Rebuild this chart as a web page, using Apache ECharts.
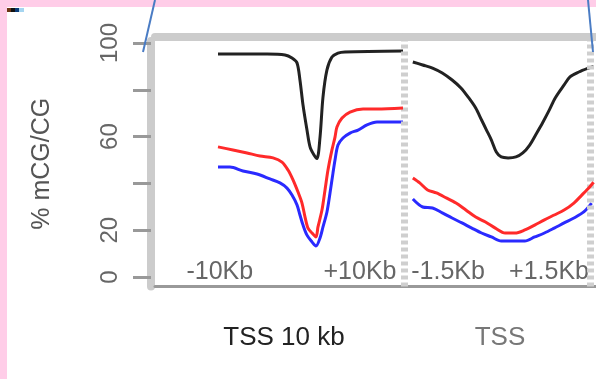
<!DOCTYPE html>
<html>
<head>
<meta charset="utf-8">
<script src="https://cdn.jsdelivr.net/npm/echarts@6/dist/echarts.min.js"></script>
<style>
  html, body { margin: 0; padding: 0; background: #ffcde8; }
  #chart { width: 596px; height: 379px; }
</style>
</head>
<body>
<div id="chart"></div>
<script>
var chartDom = document.getElementById('chart');
var myChart = echarts.init(chartDom);
var option;

// y axis
var yTicks = [0, 20, 40, 60, 80, 100];
var yLabels = [0, 20, 60, 100];

// label positions (kb) and texts for the two panels
var leftLabelPos = [-9.8, 5.35];
var leftLabelText = ['-10Kb', '+10Kb'];
var rightLabelPos = [-0.905, 0.798];
var rightLabelText = ['-1.5Kb', '+1.5Kb'];

// left panel: TSS +/- 10 kb  [kb, % mCG/CG]
var leftBlack = [[-10, 95.3], [-4.7, 95.3], [-2.76, 94.9], [-2.0, 93.6], [-1.46, 91.5],
  [-1.14, 84.2], [-0.81, 73.5], [-0.38, 62.8], [-0.05, 55.6], [0.38, 52.1], [0.7, 50.6],
  [1.03, 59.8], [1.35, 76.9], [1.78, 88.5], [2.32, 94.0], [2.97, 95.7], [3.73, 96.2], [10, 96.6]];
var leftRed = [[-10, 55.6], [-8.38, 54.3], [-6.86, 53.0], [-5.46, 51.7], [-4.05, 50.9],
  [-3.08, 49.1], [-2.43, 45.7], [-1.89, 41.5], [-1.35, 36.3], [-0.92, 31.6], [-0.59, 25.6],
  [-0.27, 20.9], [0.16, 18.8], [0.59, 17.1], [0.81, 21.4], [1.24, 28.6], [1.57, 37.2],
  [1.89, 45.7], [2.32, 54.3], [2.65, 59.8], [2.86, 64.1], [3.41, 67.9], [4.27, 70.5],
  [5.68, 71.8], [7.19, 71.8], [10, 72.2]];
var leftBlue = [[-10, 47.0], [-8.7, 47.0], [-7.3, 45.3], [-5.78, 44.0], [-4.38, 41.9],
  [-3.3, 40.2], [-2.54, 38.0], [-2.0, 35.0], [-1.46, 30.8], [-1.14, 26.5], [-0.81, 22.2],
  [-0.38, 17.9], [0.16, 15.0], [0.59, 13.2], [1.03, 16.7], [1.35, 21.4], [1.78, 27.8],
  [2.11, 35.9], [2.43, 44.4], [2.65, 50.0], [2.97, 56.4], [3.51, 59.4], [4.27, 61.5],
  [5.14, 62.8], [6.11, 65.0], [7.19, 66.2], [10, 66.2]];

// right panel: TSS +/- 1.5 kb
var rightBlack = [[-1.5, 91.9], [-1.334, 90.6], [-1.168, 89.3], [-1.003, 87.2], [-0.837, 84.2],
  [-0.688, 80.8], [-0.555, 76.5], [-0.439, 72.2], [-0.34, 67.1], [-0.257, 62.8], [-0.174, 58.5],
  [-0.091, 53.4], [-0.008, 51.3], [0.108, 50.9], [0.24, 51.3], [0.356, 53.0], [0.472, 56.4],
  [0.572, 60.7], [0.688, 65.8], [0.804, 71.4], [0.903, 76.5], [1.053, 82.1], [1.152, 85.5],
  [1.301, 87.6], [1.467, 89.3], [1.55, 90.0]];
var rightRed = [[-1.5, 42.3], [-1.384, 40.2], [-1.251, 37.2], [-1.102, 35.9], [-0.936, 33.8],
  [-0.771, 31.6], [-0.605, 28.6], [-0.439, 25.6], [-0.274, 23.5], [-0.108, 20.9], [0.058, 18.8],
  [0.224, 18.8], [0.39, 20.1], [0.556, 22.2], [0.721, 24.4], [0.887, 26.5], [1.053, 28.6],
  [1.218, 31.6], [1.351, 35.0], [1.484, 38.5], [1.55, 40.5]];
var rightBlue = [[-1.5, 33.3], [-1.334, 29.9], [-1.168, 29.5], [-1.003, 27.4], [-0.837, 25.2],
  [-0.671, 23.1], [-0.505, 20.9], [-0.34, 18.8], [-0.174, 17.1], [-0.008, 15.4], [0.158, 15.4],
  [0.39, 15.4], [0.556, 17.1], [0.721, 18.8], [0.887, 20.9], [1.053, 23.1], [1.218, 25.2],
  [1.384, 27.8], [1.517, 31.6]];

var font = 'Liberation Sans, Arial, sans-serif';
var yMin = -4.06, yMax = 100.85;

function lineSeries(x, y, data, color, z) {
  return {
    type: 'line', xAxisIndex: x, yAxisIndex: y, data: data,
    smooth: 0.3, showSymbol: false, silent: true, z: z,
    lineStyle: { color: color, width: 3 }
  };
}

// dashed panel separator at a given x value
function separator(v) {
  return {
    silent: true, symbol: ['none', 'none'], label: { show: false },
    lineStyle: { color: '#cfcfcf', width: 7, type: [4, 3] },
    data: [{ xAxis: v }]
  };
}

function pickLabel(pos, text) {
  return function (v) {
    for (var i = 0; i < pos.length; i++) {
      if (Math.abs(pos[i] - v) < 1e-6) return text[i];
    }
    return '';
  };
}

var bottomLine = { show: true, onZero: false, lineStyle: { color: '#999', width: 3 } };
var topBand = { show: true, onZero: false, lineStyle: { color: '#ccc', width: 8 } };

var leftRedSeries = lineSeries(0, 0, leftRed, '#ff2a2a', 5);
leftRedSeries.markLine = separator(10.1);
var rightRedSeries = lineSeries(1, 1, rightRed, '#ff2a2a', 5);
rightRedSeries.markLine = separator(1.505);

option = {
  backgroundColor: '#ffcde8',
  animation: false,
  graphic: [
    { type: 'rect', shape: { x: 7, y: 7, width: 600, height: 380 }, style: { fill: '#fff' }, z: -10 },
    { type: 'rect', shape: { x: 7, y: 8, width: 4, height: 4 }, style: { fill: '#6b3515' } },
    { type: 'rect', shape: { x: 11, y: 8, width: 4, height: 4 }, style: { fill: '#111' } },
    { type: 'rect', shape: { x: 15, y: 8, width: 4, height: 4 }, style: { fill: '#0a3c78' } },
    { type: 'rect', shape: { x: 19, y: 8, width: 5, height: 4 }, style: { fill: '#a5d5f0' } },
    { type: 'line', shape: { x1: 155, y1: 0, x2: 143, y2: 52 }, style: { stroke: '#4a7cc4', lineWidth: 2 }, z: 100 },
    { type: 'line', shape: { x1: 588, y1: 0, x2: 593, y2: 52 }, style: { stroke: '#4a7cc4', lineWidth: 2 }, z: 100 }
  ],
  title: [
    { text: 'TSS 10 kb', left: 284, top: 325, textAlign: 'center', padding: 0,
      textStyle: { fontFamily: font, fontSize: 26, fontWeight: 'normal', color: '#222' } },
    { text: 'TSS', left: 500, top: 325, textAlign: 'center', padding: 0,
      textStyle: { fontFamily: font, fontSize: 26, fontWeight: 'normal', color: '#777' } }
  ],
  grid: [
    { left: 155, top: 41, width: 249, bottom: 92.5 },
    { left: 404, top: 41, width: 196, bottom: 92.5 }
  ],
  xAxis: [
    { type: 'value', gridIndex: 0, position: 'bottom', min: -16.81, max: 10.108,
      axisLine: bottomLine, axisTick: { show: false }, splitLine: { show: false },
      axisLabel: { inside: true, margin: 2, customValues: leftLabelPos,
        formatter: pickLabel(leftLabelPos, leftLabelText),
        fontFamily: font, fontSize: 25, color: '#666' } },
    { type: 'value', gridIndex: 1, position: 'bottom', min: -1.649, max: 1.591,
      axisLine: bottomLine, axisTick: { show: false }, splitLine: { show: false },
      axisLabel: { inside: true, margin: 2, customValues: rightLabelPos,
        formatter: pickLabel(rightLabelPos, rightLabelText),
        fontFamily: font, fontSize: 25, color: '#666' } },
    { type: 'value', gridIndex: 0, position: 'top', offset: 4, min: 0, max: 1,
      axisLine: topBand, axisTick: { show: false }, axisLabel: { show: false }, splitLine: { show: false } },
    { type: 'value', gridIndex: 1, position: 'top', offset: 4, min: 0, max: 1,
      axisLine: topBand, axisTick: { show: false }, axisLabel: { show: false }, splitLine: { show: false } }
  ],
  yAxis: [
    { type: 'value', gridIndex: 0, min: yMin, max: yMax, offset: 4,
      name: '% mCG/CG', nameLocation: 'middle', nameGap: 96,
      nameTextStyle: { fontFamily: font, fontSize: 25, color: '#555' },
      axisLine: { show: true, onZero: false, lineStyle: { color: '#ccc', width: 8 } },
      axisTick: { show: true, length: 18, customValues: yTicks, lineStyle: { color: '#999', width: 3 } },
      axisLabel: { rotate: 90, margin: 29, customValues: yLabels,
        fontFamily: font, fontSize: 24, color: '#666' },
      splitLine: { show: false } },
    { type: 'value', gridIndex: 1, min: yMin, max: yMax, show: false }
  ],
  series: [
    lineSeries(0, 0, leftBlack, '#222', 3),
    lineSeries(0, 0, leftBlue, '#2a2aff', 4),
    leftRedSeries,
    lineSeries(1, 1, rightBlack, '#222', 3),
    lineSeries(1, 1, rightBlue, '#2a2aff', 4),
    rightRedSeries
  ]
};

option && myChart.setOption(option);
</script>
</body>
</html>
